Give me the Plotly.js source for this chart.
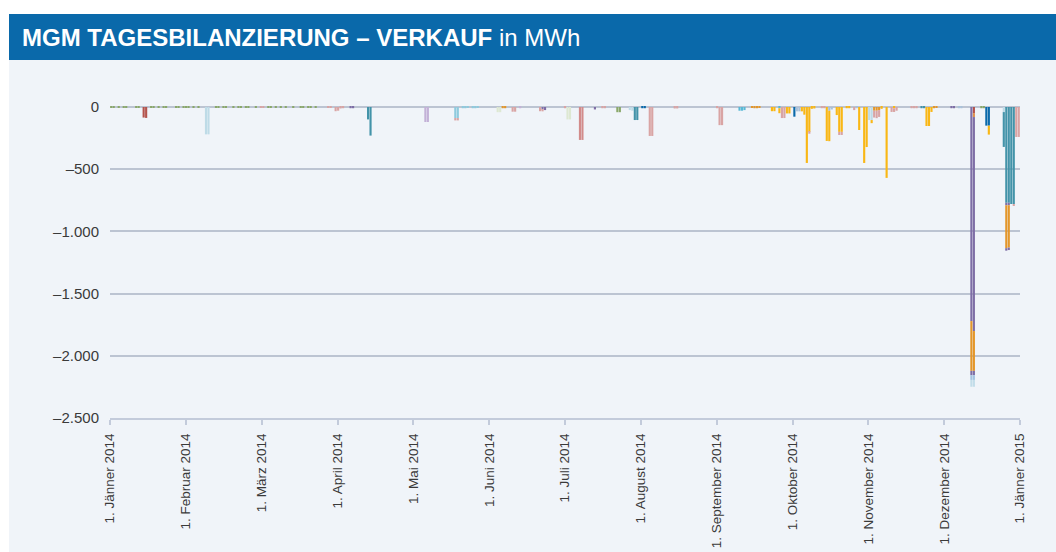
<!DOCTYPE html>
<html>
<head>
<meta charset="utf-8">
<script src="https://cdn.plot.ly/plotly-3.0.1.min.js"></script>
<style>
  html, body { margin: 0; padding: 0; background: #ffffff; }
  #wrap { position: relative; width: 1056px; height: 552px; overflow: hidden; background: #ffffff; }
  #bg { position: absolute; left: 9px; top: 60px; right: 0; bottom: 0; background: #f0f4f9; }
  #band { position: absolute; left: 9px; top: 14px; right: 0; height: 46px; background: #0a69aa; }
  #chart { position: absolute; left: 0; top: 0; width: 1056px; height: 552px; }
</style>
</head>
<body>
<div id="wrap">
  <div id="bg"></div>
  <div id="band"></div>
  <div id="chart"></div>
</div>
<script>
// ---- tick labels ----
const monthLabels = ["1. Jänner 2014","1. Februar 2014","1. März 2014","1. April 2014","1. Mai 2014","1. Juni 2014","1. Juli 2014","1. August 2014","1. September 2014","1. Oktober 2014","1. November 2014","1. Dezember 2014","1. Jänner 2015"];
const yTickVals = [0, -500, -1000, -1500, -2000, -2500];
const yTickText = ["0", "–500", "–1.000", "–1.500", "–2.000", "–2.500"];

// ---- series (daily MWh, negative = Verkauf) ----
const redDates = ["2014-01-14","2014-01-15","2014-12-13"];
const redVals  = [-85,-88,-49];

const apricotDates = ["2014-12-13"];
const apricotVals  = [-32];

const lightblueDates = ["2014-02-08","2014-02-09","2014-07-28","2014-07-29","2014-11-01","2014-11-02","2014-12-25"];
const lightblueVals  = [-220,-220,-25,-30,-105,-105,-41];

const blueDates = ["2014-08-02","2014-08-03","2014-10-02","2014-12-18","2014-12-19"];
const blueVals  = [-10,-10,-78,-150,-150];

const steelDates = ["2014-10-03","2014-10-04","2014-10-16","2014-10-17","2014-10-27","2014-12-07","2014-12-08"];
const steelVals  = [-35,-35,-30,-20,-10,-10,-10];

const cyanDates = ["2014-09-10","2014-09-11","2014-09-12","2014-09-26"];
const cyanVals  = [-30,-30,-25,-10];

const skyDates = ["2014-05-19","2014-05-20","2014-05-22","2014-05-23","2014-05-24","2014-05-26","2014-05-27","2014-05-28"];
const skyVals  = [-89,-89,-10,-10,-8,-10,-10,-8];

const yellowDates = ["2014-09-23","2014-09-24","2014-09-26","2014-09-29","2014-09-30","2014-10-05","2014-10-06","2014-10-07","2014-10-08","2014-10-09","2014-10-10","2014-10-15","2014-10-16","2014-10-19","2014-10-20","2014-10-21","2014-10-23","2014-10-24","2014-10-28","2014-10-30","2014-10-31","2014-11-02","2014-11-06","2014-11-08","2014-11-11","2014-11-24","2014-11-25","2014-11-26","2014-12-19"];
const yellowVals  = [-34,-34,-40,-52,-52,-35,-62,-450,-200,-15,-12,-273,-245,-65,-200,-200,-10,-10,-185,-450,-322,-25,-15,-570,-10,-153,-153,-40,-72];

const tealDates = ["2014-04-14","2014-04-15","2014-07-30","2014-07-31","2014-11-22","2014-11-23","2014-12-25","2014-12-26","2014-12-27","2014-12-28","2014-12-29"];
const tealVals  = [-100,-230,-105,-105,-10,-10,-280,-770,-770,-780,-780];

const purpleDates = ["2014-04-07","2014-04-08","2014-06-23","2014-06-24","2014-07-14","2014-12-04","2014-12-05","2014-12-12","2014-12-13","2014-12-26","2014-12-27"];
const purpleVals  = [-10,-10,-20,-25,-20,-10,-10,-1721,-1720,-20,-20];

const orangeDates = ["2014-06-07","2014-06-08","2014-09-15","2014-09-16","2014-09-17","2014-09-18","2014-11-03","2014-11-04","2014-11-05","2014-11-27","2014-11-28","2014-12-12","2014-12-13","2014-12-26","2014-12-27"];
const orangeVals  = [-10,-10,-8,-10,-10,-8,-30,-30,-25,-10,-8,-400,-320,-345,-340];

const purple2Dates = ["2014-12-12","2014-12-13","2014-12-26","2014-12-27"];
const purple2Vals  = [-35,-35,-20,-20];

const iceblueDates = ["2014-12-12","2014-12-13"];
const iceblueVals  = [-38,-38];

const frostDates = ["2014-12-12","2014-12-13"];
const frostVals  = [-55,-55];

const pinkDates = ["2014-03-02","2014-03-03","2014-03-29","2014-03-30","2014-04-01","2014-04-02","2014-04-03","2014-04-04","2014-05-19","2014-05-20","2014-06-11","2014-06-12","2014-06-22","2014-06-23","2014-07-02","2014-07-17","2014-07-18","2014-08-05","2014-08-06","2014-08-15","2014-08-16","2014-09-01","2014-09-02","2014-09-03","2014-09-27","2014-09-28","2014-10-08","2014-10-13","2014-10-14","2014-10-20","2014-10-21","2014-10-26","2014-11-03","2014-11-04","2014-11-05","2014-11-10","2014-11-11","2014-11-12","2014-11-18","2014-11-19","2014-11-20","2014-12-29","2014-12-30","2014-12-31"];
const pinkVals  = [-6,-8,-8,-8,-34,-30,-12,-10,-19,-19,-38,-38,-34,-15,-10,-10,-10,-233,-233,-12,-12,-10,-146,-146,-89,-89,-15,-10,-10,-25,-25,-25,-55,-60,-55,-40,-30,-30,-10,-10,-10,-15,-241,-241];

const roseDates = ["2014-07-08","2014-07-09"];
const roseVals  = [-265,-265];

const greenDates = ["2014-01-01","2014-01-02","2014-01-04","2014-01-06","2014-01-07","2014-01-11","2014-01-12","2014-01-17","2014-01-18","2014-01-20","2014-01-22","2014-01-23","2014-01-27","2014-01-28","2014-01-30","2014-01-31","2014-02-01","2014-02-03","2014-02-05","2014-02-12","2014-02-13","2014-02-15","2014-02-16","2014-02-19","2014-02-21","2014-02-22","2014-02-24","2014-02-25","2014-02-28","2014-03-05","2014-03-06","2014-03-08","2014-03-10","2014-03-12","2014-03-15","2014-03-18","2014-03-19","2014-03-21","2014-03-22","2014-03-24","2014-07-23","2014-07-24","2014-12-16","2014-12-17"];
const greenVals  = [-7,-6,-8,-7,-6,-7,-8,-6,-7,-7,-8,-6,-7,-7,-6,-8,-7,-7,-8,-6,-7,-7,-8,-7,-6,-7,-8,-7,-7,-6,-7,-8,-7,-6,-7,-8,-7,-6,-7,-7,-42,-42,-10,-10];

const lavenderDates = ["2014-05-07","2014-05-08","2014-06-14"];
const lavenderVals  = [-121,-121,-10];

const mintDates = ["2014-06-05","2014-06-06","2014-07-03","2014-07-04"];
const mintVals  = [-42,-42,-100,-100];

// ---- build traces (trace order = stacking order from zero downwards) ----
const DAY = 86400000;
function bar(name, color, x, y) {
  return {
    type: 'bar', name: name, x: x, y: y,
    xperiod: DAY, xperiod0: '2014-01-01', xperiodalignment: 'middle',
    width: DAY * 0.86,
    marker: { color: color, line: { width: 0 } },
    hovertemplate: '%{x|%d.%m.%Y}: %{y} MWh<extra>' + name + '</extra>'
  };
}
const data = [
  bar('Rot', '#b3524b', redDates, redVals),
  bar('Apricot', '#e0904c', apricotDates, apricotVals),
  bar('Hellblau', '#bedbe7', lightblueDates, lightblueVals),
  bar('Blau', '#0a69aa', blueDates, blueVals),
  bar('Stahlblau', '#a9c1d9', steelDates, steelVals),
  bar('Cyan', '#59b9d6', cyanDates, cyanVals),
  bar('Himmelblau', '#8ecadd', skyDates, skyVals),
  bar('Gelb', '#f9b715', yellowDates, yellowVals),
  bar('Petrol', '#4393a9', tealDates, tealVals),
  bar('Violett', '#7e6ea6', purpleDates, purpleVals),
  bar('Orange', '#e3962a', orangeDates, orangeVals),
  bar('Violett 2', '#7e6ea6', purple2Dates, purple2Vals),
  bar('Eisblau', '#a3c3e1', iceblueDates, iceblueVals),
  bar('Frost', '#c2dde9', frostDates, frostVals),
  bar('Rosa', '#d9a4a4', pinkDates, pinkVals),
  bar('Altrosa', '#d28b8b', roseDates, roseVals),
  bar('Grün', '#8aa86a', greenDates, greenVals),
  bar('Lavendel', '#c3b1d7', lavenderDates, lavenderVals),
  bar('Mint', '#dde8d2', mintDates, mintVals)
];

// equally spaced month ticks (as in the original chart)
const start = Date.UTC(2014, 0, 1);
function iso(ms) { return new Date(ms).toISOString().replace('T', ' ').replace('Z', '').slice(0, 19); }
const xTickVals = monthLabels.map((_, k) => iso(start + k * (365 / 12) * DAY));

const layout = {
  width: 1056, height: 552,
  paper_bgcolor: 'rgba(0,0,0,0)', plot_bgcolor: 'rgba(0,0,0,0)',
  margin: { l: 110, r: 36, t: 101.5, b: 134, pad: 0 },
  barmode: 'relative',
  showlegend: false,
  title: {
    text: '<b>MGM TAGESBILANZIERUNG – VERKAUF</b> in MWh',
    font: { family: 'Liberation Sans, Arial, sans-serif', size: 24, color: '#ffffff' },
    xref: 'container', x: 22 / 1056, xanchor: 'left',
    yref: 'container', y: 1 - 37.5 / 552, yanchor: 'middle'
  },
  xaxis: {
    type: 'date', range: ['2014-01-01', '2015-01-01'],
    tickmode: 'array', tickvals: xTickVals, ticktext: monthLabels,
    tickangle: -90, ticks: 'outside', ticklen: 5, tickwidth: 1.5, tickcolor: '#c3cbdb',
    ticklabelstandoff: 3,
    showgrid: false, zeroline: false,
    showline: true, linecolor: '#c3cbdb', linewidth: 2,
    tickfont: { family: 'Liberation Sans, Arial, sans-serif', size: 13.5, color: '#3a3a3a' },
    automargin: false, fixedrange: true
  },
  yaxis: {
    range: [-2500, 40],
    tickmode: 'array', tickvals: yTickVals, ticktext: yTickText,
    ticks: '', ticklabelstandoff: 10,
    showgrid: true, gridcolor: '#bcc4d2', gridwidth: 1.5,
    zeroline: false, showline: false,
    tickfont: { family: 'Liberation Sans, Arial, sans-serif', size: 15, color: '#3a3a3a' },
    automargin: false, fixedrange: true
  }
};

Plotly.newPlot('chart', data, layout, { displayModeBar: false, staticPlot: false });
</script>
</body>
</html>
